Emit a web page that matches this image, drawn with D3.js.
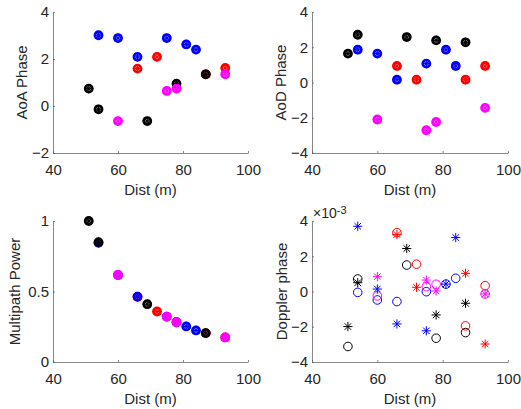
<!DOCTYPE html>
<html>
<head>
<meta charset="utf-8">
<script src="https://cdn.jsdelivr.net/npm/d3@7"></script>
<style>
  body { margin: 0; background: #fff; }
  text { font-family: 'Liberation Sans', Arial, sans-serif; fill: #262626; }
</style>
</head>
<body>
<script>
// one entry per path (distance, colour)
const dist = [51, 54, 54, 60, 60, 66, 66, 69, 72, 75, 75, 78, 78, 81, 84, 87, 87, 93, 93]
const pathColor = ['k', 'b', 'k', 'b', 'm', 'r', 'b', 'k', 'r', 'b', 'm', 'k', 'm', 'b', 'b', 'r', 'k', 'r', 'm']
const aoaPhase = [0.74, 3.01, -0.14, 2.89, -0.64, 1.59, 2.09, -0.64, 2.09, 2.89, 0.64, 0.95, 0.74, 2.62, 2.4, 1.35, 1.35, 1.62, 1.35]
const aodPhase = [1.64, 1.86, 2.71, 1.64, -2.1, 0.94, 0.16, 2.58, 0.16, 1.07, -2.71, 2.39, -2.24, 1.86, 0.94, 0.16, 2.28, 0.94, -1.44]
const power = [1.0, 0.845, 0.85, 0.617, 0.617, 0.463, 0.463, 0.41, 0.358, 0.322, 0.322, 0.282, 0.282, 0.252, 0.224, 0.205, 0.205, 0.174, 0.174]
// doppler values in units of 1e-3
const dopplerO = [-3.12, -0.05, 0.71, -0.48, -0.25, 3.34, -0.57, 1.5, 1.55, -0.01, 0.27, -2.65, 0.41, 0.42, 0.75, -1.95, -2.33, 0.33, -0.14]
const dopplerStar = [-1.99, 3.70, 0.5, 0.14, 0.84, 3.23, -1.84, 2.44, 0.24, -2.23, 0.65, -1.33, 0.03, 0.42, 3.06, 1.03, -0.67, -2.98, -0.14]

const xTicks = [40, 60, 80, 100]
const colors = { k: '#000000', b: '#0000ff', r: '#ff0000', m: '#ff00ff' }

const w = 521
const h = 409

const svg = d3.select('body')
  .append('svg')
  .attr('width', w)
  .attr('height', h)

svg.append('rect').attr('width', w).attr('height', h).attr('fill', '#fff')

// axis boxes
const cols = [[53, 248], [312, 508]]
const rows = [[12, 153], [221, 362]]

const panels = [
  { col: 0, row: 0, yDomain: [-2, 4], yTicks: [-2, 0, 2, 4], label: 'AoA Phase', labelX: 27, series: [aoaPhase], kind: 'filled' },
  { col: 1, row: 0, yDomain: [-4, 4], yTicks: [-4, -2, 0, 2, 4], label: 'AoD Phase', labelX: 286, series: [aodPhase], kind: 'filled' },
  { col: 0, row: 1, yDomain: [0, 1], yTicks: [0, 0.5, 1], label: 'Multipath Power', labelX: 20, series: [power], kind: 'filled' },
  { col: 1, row: 1, yDomain: [-4, 4], yTicks: [-4, -2, 0, 2, 4], label: 'Doppler phase', labelX: 287, series: [dopplerO, dopplerStar], kind: 'split', exponent: true }
]

function asterisk(g, r, color, sw) {
  for (let k = 0; k < 4; k++) {
    const a = k * Math.PI / 4
    g.append('line')
      .attr('x1', -r * Math.cos(a)).attr('y1', -r * Math.sin(a))
      .attr('x2', r * Math.cos(a)).attr('y2', r * Math.sin(a))
      .style('stroke', color)
      .style('stroke-width', sw)
  }
}

panels.forEach(p => {
  const [x0, x1] = cols[p.col]
  const [y0, y1] = rows[p.row]

  const xScale = d3.scaleLinear().domain([40, 100]).range([x0, x1])
  const yScale = d3.scaleLinear().domain(p.yDomain).range([y1, y0])

  const xAxis = d3.axisBottom(xScale)
    .tickValues(xTicks)
    .tickSizeInner(-2)
    .tickSizeOuter(0)
    .tickPadding(11)

  const gx = svg.append('g')
    .attr('transform', `translate(0,${y1})`)
    .call(xAxis)

  const yAxis = d3.axisLeft(yScale)
    .tickValues(p.yTicks)
    .tickFormat(d3.format('~g'))
    .tickSizeInner(-2)
    .tickSizeOuter(0)
    .tickPadding(4)

  const gy = svg.append('g')
    .attr('transform', `translate(${x0},0)`)
    .call(yAxis)

  ;[gx, gy].forEach(g => {
    g.select('.domain').style('stroke', '#555').style('stroke-width', 0.7)
    g.selectAll('.tick line').style('stroke', '#555').style('stroke-width', 0.7)
    g.selectAll('.tick text')
      .style('font-size', '15px')
      .style('font-family', "'Liberation Sans', Arial, sans-serif")
      .attr('fill', '#262626')
  })

  svg.append('text')
    .attr('x', (x0 + x1) / 2)
    .attr('y', y1 + 42)
    .attr('text-anchor', 'middle')
    .style('font-size', '15px')
    .text('Dist (m)')

  svg.append('text')
    .attr('transform', `translate(${p.labelX},${(y0 + y1) / 2}) rotate(-90)`)
    .attr('text-anchor', 'middle')
    .style('font-size', '15px')
    .text(p.label)

  if (p.exponent) {
    const t = svg.append('text')
      .attr('x', x0 + 1)
      .attr('y', y0 - 3)
      .style('font-size', '14px')
    t.append('tspan').text('×10')
    t.append('tspan').attr('dy', -4).style('font-size', '11px').text('-3')
  }

  const marks = svg.append('g')

  if (p.kind === 'filled') {
    // overlapping o and * markers look like a dotted disc
    dist.forEach((d, i) => {
      const c = colors[pathColor[i]]
      const g = marks.append('g')
        .attr('transform', `translate(${xScale(d)},${yScale(p.series[0][i])})`)
      g.append('circle')
        .attr('r', 3.6)
        .style('fill', 'none')
        .style('stroke', c)
        .style('stroke-width', 2.6)
      asterisk(g, 4.6, c, 1.1)
    })
  } else {
    dist.forEach((d, i) => {
      const c = colors[pathColor[i]]
      marks.append('circle')
        .attr('cx', xScale(d))
        .attr('cy', yScale(p.series[0][i]))
        .attr('r', 4.3)
        .style('fill', 'none')
        .style('stroke', c)
        .style('stroke-width', 1)
    })
    dist.forEach((d, i) => {
      const c = colors[pathColor[i]]
      const g = marks.append('g')
        .attr('transform', `translate(${xScale(d)},${yScale(p.series[1][i])})`)
      asterisk(g, 4.6, c, 1)
    })
  }
})
</script>
</body>
</html>
